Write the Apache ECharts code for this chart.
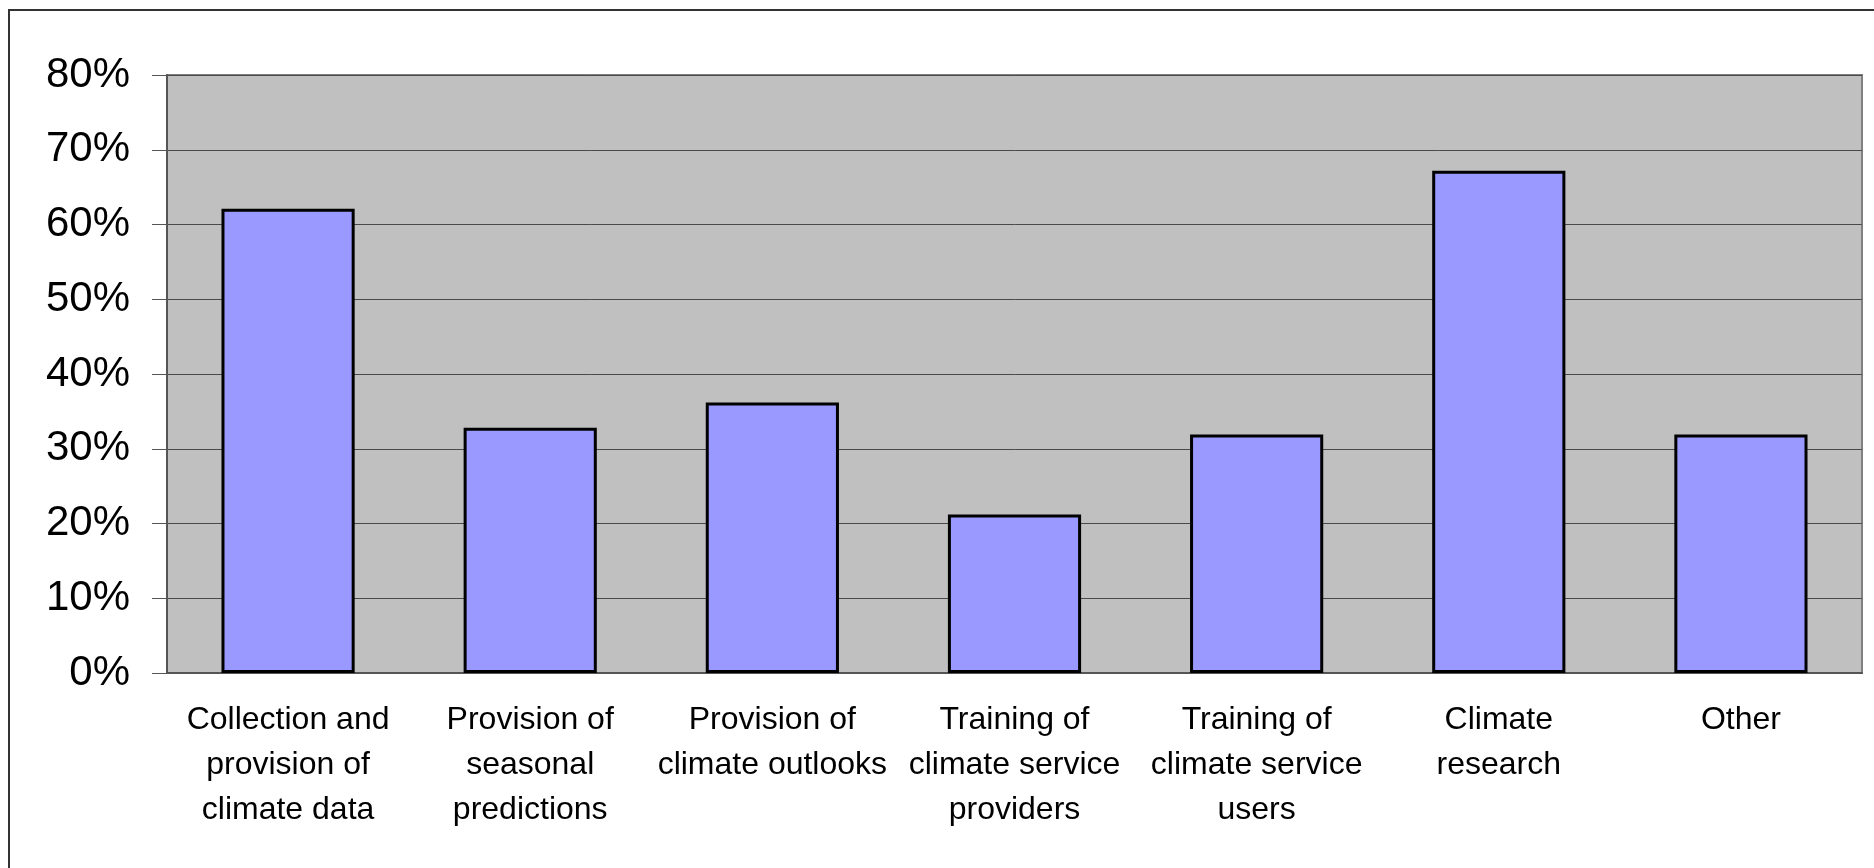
<!DOCTYPE html>
<html>
<head>
<meta charset="utf-8">
<script src="https://cdn.jsdelivr.net/npm/echarts@6/dist/echarts.min.js"></script>
<style>
    html, body { margin: 0; padding: 0; background: #ffffff; }
    #chart { width: 1874px; height: 868px; }
</style>
</head>
<body>
<div id="chart"></div>
<script>
// 类别标签
const categories = [
    'Collection and\nprovision of\nclimate data',
    'Provision of\nseasonal\npredictions',
    'Provision of\nclimate outlooks',
    'Training of\nclimate service\nproviders',
    'Training of\nclimate service\nusers',
    'Climate\nresearch',
    'Other'
];

// 百分比数值
const values = [62.1, 32.8, 36.2, 21.2, 31.9, 67.2, 31.9];

// 纵轴刻度
const yMin = 0;
const yMax = 80;
const yStep = 10;

const chart = echarts.init(document.getElementById('chart'));

const option = {
    animation: false,
    graphic: [{
        // 外框
        type: 'rect',
        shape: { x: 9, y: 10, width: 1900, height: 900 },
        style: { fill: 'none', stroke: '#333333', lineWidth: 2 },
        silent: true,
        z: -1
    }],
    grid: {
        left: 167,
        top: 75,
        right: 12,
        bottom: 195,
        show: true,
        backgroundColor: '#C0C0C0',
        borderColor: '#808080',
        borderWidth: 2
    },
    xAxis: {
        type: 'category',
        data: categories,
        axisLine: { lineStyle: { color: '#555555', width: 2 } },
        axisTick: { length: 9, lineStyle: { color: '#555555', width: 1 } },
        axisLabel: {
            interval: 0,
            margin: 25,
            fontFamily: 'Liberation Sans, Arial, sans-serif',
            fontSize: 32,
            lineHeight: 45,
            color: '#000000',
            align: 'center'
        },
        splitLine: { show: false }
    },
    yAxis: {
        type: 'value',
        min: yMin,
        max: yMax,
        interval: yStep,
        axisLine: { show: true, lineStyle: { color: '#555555', width: 2 } },
        axisTick: { show: true, length: 15, lineStyle: { color: '#555555', width: 1 } },
        axisLabel: {
            margin: 37,
            formatter: '{value}%',
            fontFamily: 'Liberation Sans, Arial, sans-serif',
            fontSize: 42,
            color: '#000000'
        },
        splitLine: { lineStyle: { color: '#4a4a4a', width: 1 } }
    },
    series: [{
        type: 'bar',
        data: values,
        barWidth: '55%',
        itemStyle: {
            color: '#9999FF',
            borderColor: '#000000',
            borderWidth: 3
        }
    }]
};

chart.setOption(option);
</script>
</body>
</html>
